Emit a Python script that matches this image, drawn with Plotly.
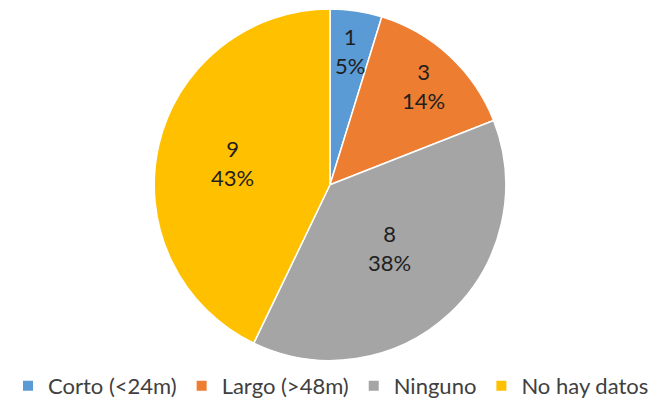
import math
import plotly.graph_objects as go

categories = ["Corto (<24m)", "Largo (>48m)", "Ninguno", "No hay datos"]
values = [1, 3, 8, 9]
colors = ["#5B9BD5", "#ED7D31", "#A5A5A5", "#FFC000"]

# style: radial position of each data label, as a fraction of the radius
label_r = [0.77, 0.77, 0.49, 0.56]

# page body has an 8px margin, so the figure is drawn 8px in from the top-left
OFF = 8
W, H = 660 - OFF, 407 - OFF
cx, cy, R = 330 - OFF, 187 - OFF, 178

fig = go.Figure(go.Pie(
    labels=categories,
    values=values,
    sort=False,
    direction="clockwise",
    rotation=0,
    marker=dict(colors=colors, line=dict(color="white", width=1.5)),
    textinfo="none",
    hoverinfo="label+value+percent",
    domain=dict(x=[(cx - R) / W, (cx + R) / W], y=[1 - (cy + R) / H, 1 - (cy - R) / H]),
))

# data labels at the angular middle of each slice (Excel-style)
total = sum(values)
cum = 0
for v, rf in zip(values, label_r):
    mid = (cum + v / 2) / total * 2 * math.pi
    cum += v
    px = cx + rf * R * math.sin(mid)
    py = cy - rf * R * math.cos(mid)
    fig.add_annotation(
        x=px / W, y=1 - py / H, xref="paper", yref="paper",
        text=f"{v}<br>{round(100 * v / total)}%",
        showarrow=False, xanchor="center", yanchor="middle",
        font=dict(family="Lato", size=22, color="#1f1f1f"),
    )

fig.update_layout(
    width=W, height=H,
    margin=dict(l=0, r=0, t=0, b=0),
    paper_bgcolor="white",
    plot_bgcolor="white",
    font=dict(family="Lato", size=22, color="#404040"),
    showlegend=True,
    legend=dict(orientation="h", x=0.49, xanchor="center", y=1 - (391 - OFF) / H, yanchor="middle",
                font=dict(family="Lato", size=22, color="#404040"),
                itemsizing="constant", traceorder="normal", itemwidth=30),
)

fig.write_html("out.html")
